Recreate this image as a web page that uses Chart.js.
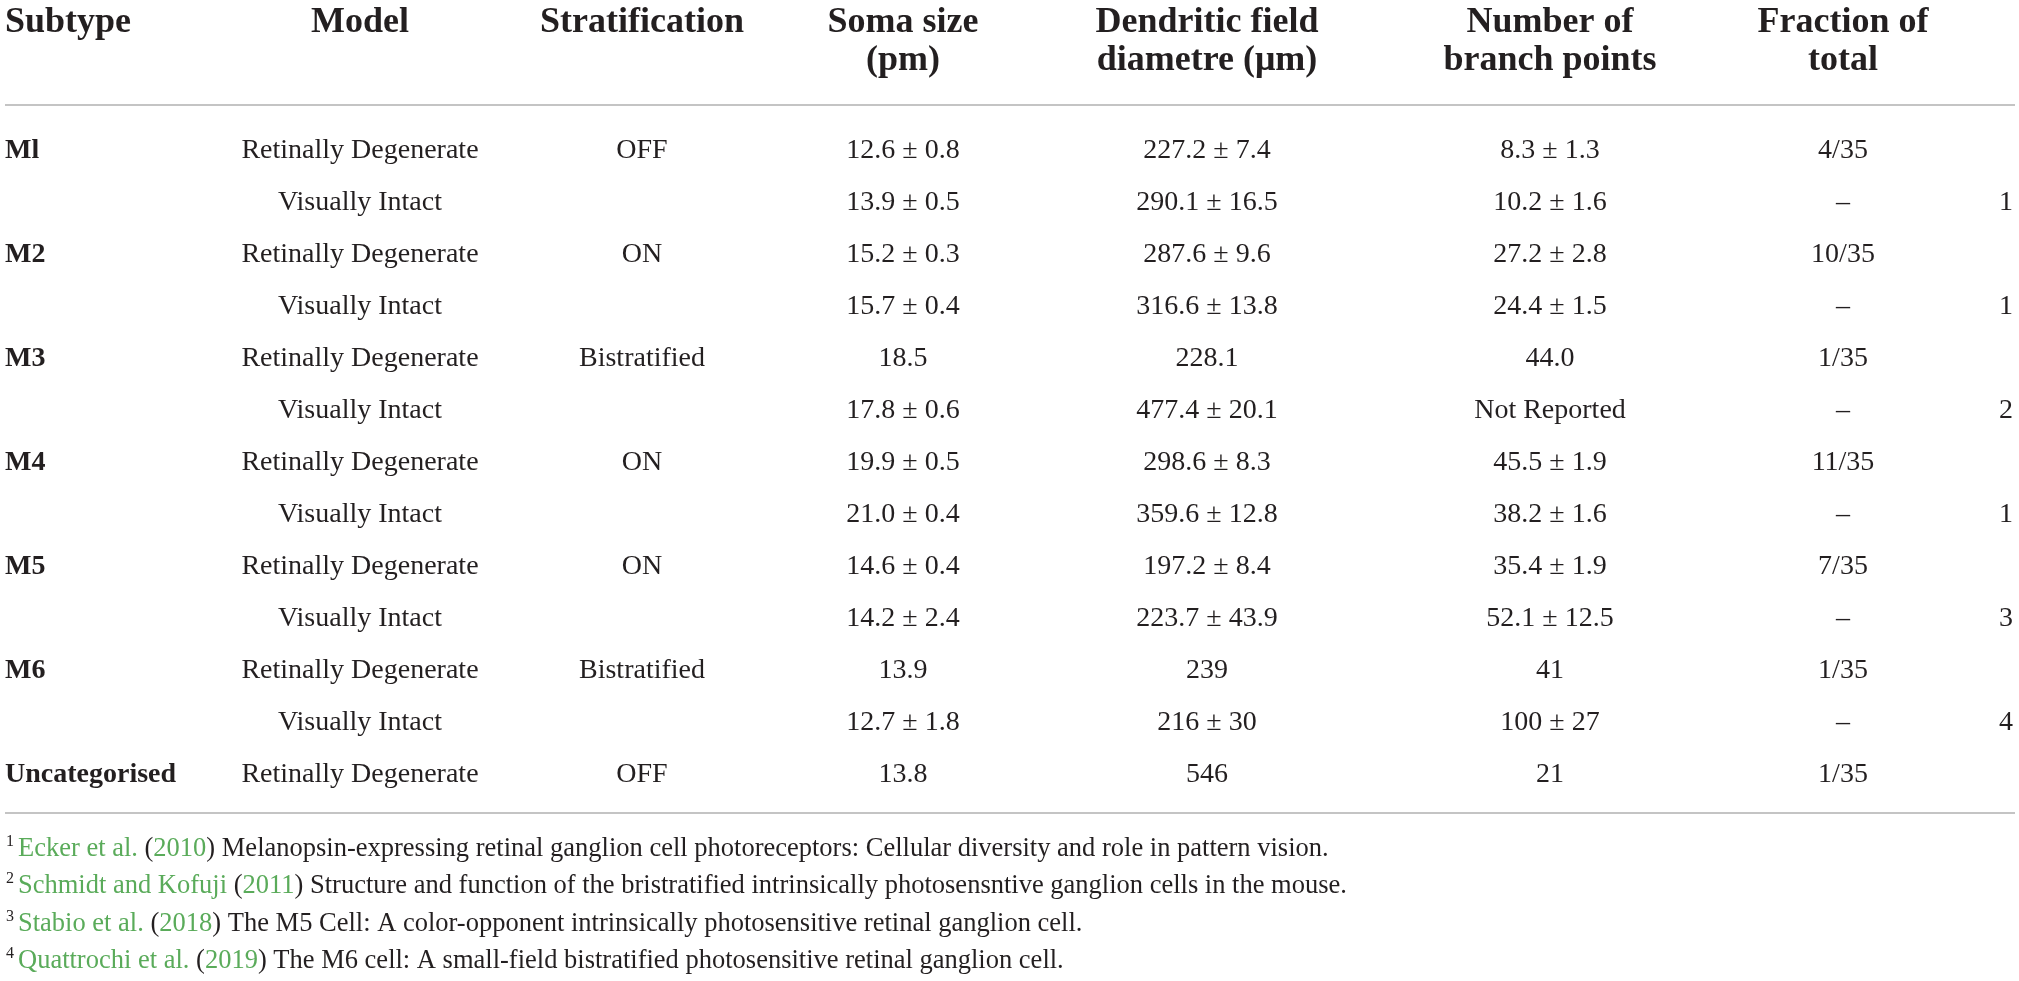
<!DOCTYPE html>
<html>
<head>
<meta charset="utf-8">
<script src="https://cdn.jsdelivr.net/npm/chart.js@4.4.1/dist/chart.umd.min.js"></script>
<style>
  html, body { margin: 0; padding: 0; background: #ffffff; }
  #wrap { width: 2019px; height: 981px; }
</style>
</head>
<body>
<div id="wrap"><canvas id="c" width="2019" height="981"></canvas></div>
<script>
// ---- table content (data) ----
const headers = [
  ['Subtype'],
  ['Model'],
  ['Stratification'],
  ['Soma size', '(pm)'],
  ['Dendritic field', 'diametre (\u03bcm)'],
  ['Number of', 'branch points'],
  ['Fraction of', 'total'],
  []
];
const subtypes = ['Ml', '', 'M2', '', 'M3', '', 'M4', '', 'M5', '', 'M6', '', 'Uncategorised'];
const models = ['Retinally Degenerate', 'Visually Intact', 'Retinally Degenerate', 'Visually Intact',
  'Retinally Degenerate', 'Visually Intact', 'Retinally Degenerate', 'Visually Intact',
  'Retinally Degenerate', 'Visually Intact', 'Retinally Degenerate', 'Visually Intact',
  'Retinally Degenerate'];
const stratification = ['OFF', '', 'ON', '', 'Bistratified', '', 'ON', '', 'ON', '', 'Bistratified', '', 'OFF'];
const somaSize = ['12.6 \u00b1 0.8', '13.9 \u00b1 0.5', '15.2 \u00b1 0.3', '15.7 \u00b1 0.4', '18.5',
  '17.8 \u00b1 0.6', '19.9 \u00b1 0.5', '21.0 \u00b1 0.4', '14.6 \u00b1 0.4', '14.2 \u00b1 2.4',
  '13.9', '12.7 \u00b1 1.8', '13.8'];
const dendriticField = ['227.2 \u00b1 7.4', '290.1 \u00b1 16.5', '287.6 \u00b1 9.6', '316.6 \u00b1 13.8',
  '228.1', '477.4 \u00b1 20.1', '298.6 \u00b1 8.3', '359.6 \u00b1 12.8', '197.2 \u00b1 8.4',
  '223.7 \u00b1 43.9', '239', '216 \u00b1 30', '546'];
const branchPoints = ['8.3 \u00b1 1.3', '10.2 \u00b1 1.6', '27.2 \u00b1 2.8', '24.4 \u00b1 1.5', '44.0',
  'Not Reported', '45.5 \u00b1 1.9', '38.2 \u00b1 1.6', '35.4 \u00b1 1.9', '52.1 \u00b1 12.5',
  '41', '100 \u00b1 27', '21'];
const fractionTotal = ['4/35', '\u2013', '10/35', '\u2013', '1/35', '\u2013', '11/35', '\u2013',
  '7/35', '\u2013', '1/35', '\u2013', '1/35'];
const refMarks = ['', '1', '', '1', '', '2', '', '1', '', '3', '', '4', ''];

const footnoteNums = ['1', '2', '3', '4'];
const footnoteAuthors = ['Ecker et al.', 'Schmidt and Kofuji', 'Stabio et al.', 'Quattrochi et al.'];
const footnoteYears = ['2010', '2011', '2018', '2019'];
const footnoteTitles = [
  'Melanopsin-expressing retinal ganglion cell photoreceptors: Cellular diversity and role in pattern vision.',
  'Structure and function of the bristratified intrinsically photosensntive ganglion cells in the mouse.',
  'The M5 Cell: A color-opponent intrinsically photosensitive retinal ganglion cell.',
  'The M6 cell: A small-field bistratified photosensitive retinal ganglion cell.'
];

// ---- layout / style (not data) ----
const columns = [subtypes, models, stratification, somaSize, dendriticField, branchPoints, fractionTotal, refMarks];
const columnX = [5, 360, 642, 903, 1207, 1550, 1843, 2013];
const columnAlign = ['left', 'center', 'center', 'center', 'center', 'center', 'center', 'right'];
const columnBold = [true, false, false, false, false, false, false, false];
const FONT = '"Liberation Serif", "Times New Roman", serif';
const INK = '#231f20';
const GREEN = '#5aab5a';
const RULE = '#c4c4c4';

const rowCount = subtypes.length;

const tablePlugin = {
  id: 'tablePlugin',
  afterDatasetsDraw(chart) {
    const ctx = chart.ctx;
    const area = chart.chartArea;
    ctx.save();
    // header
    ctx.fillStyle = INK;
    ctx.font = 'bold 36px ' + FONT;
    ctx.textBaseline = 'alphabetic';
    headers.forEach((lines, c) => {
      ctx.textAlign = columnAlign[c];
      lines.forEach((t, k) => {
        ctx.fillText(t, columnX[c], area.top - 90 + k * 38);
      });
    });
    // rules
    ctx.strokeStyle = RULE;
    ctx.lineWidth = 2;
    ctx.beginPath();
    ctx.moveTo(5, area.top - 17); ctx.lineTo(2015, area.top - 17);
    ctx.moveTo(5, area.bottom + 15); ctx.lineTo(2015, area.bottom + 15);
    ctx.stroke();
    // cells from dataset elements
    chart.data.datasets.forEach((ds, c) => {
      const meta = chart.getDatasetMeta(c);
      ctx.font = (ds.bold ? 'bold ' : '') + '28px ' + FONT;
      ctx.textAlign = ds.align;
      ctx.fillStyle = INK;
      meta.data.forEach((el, i) => {
        const t = ds.data[i].text;
        if (t) ctx.fillText(t, el.x, el.y + 10);
      });
    });
    // footnotes
    ctx.textAlign = 'left';
    footnoteNums.forEach((n, i) => {
      const base = area.bottom + 58 + i * 37.3;
      ctx.font = '16px ' + FONT;
      ctx.fillStyle = INK;
      ctx.fillText(n, 6, base - 10);
      let x = 18;
      ctx.font = '26.5px ' + FONT;
      const segs = [
        [footnoteAuthors[i], GREEN], [' (', INK], [footnoteYears[i], GREEN], [') ', INK], [footnoteTitles[i], INK]
      ];
      segs.forEach(([s, col]) => {
        ctx.fillStyle = col;
        ctx.fillText(s, x, base);
        x += ctx.measureText(s).width;
      });
    });
    ctx.restore();
  }
};

const datasets = columns.map((col, c) => ({
  label: headers[c].join(' '),
  data: col.map((t, i) => ({ x: columnX[c], y: i, text: t })),
  align: columnAlign[c],
  bold: columnBold[c],
  pointRadius: 0,
  pointHoverRadius: 0,
  showLine: false
}));

Chart.defaults.font.family = FONT;

new Chart(document.getElementById('c'), {
  type: 'scatter',
  data: { datasets },
  options: {
    responsive: false,
    devicePixelRatio: 1,
    animation: false,
    events: [],
    layout: { padding: { left: 0, right: 0, top: 122, bottom: 183 } },
    plugins: { legend: { display: false }, tooltip: { enabled: false } },
    scales: {
      x: { type: 'linear', min: 0, max: 2019, display: false },
      y: { type: 'linear', min: -0.5, max: rowCount - 0.5, reverse: true, display: false }
    }
  },
  plugins: [tablePlugin]
});
</script>
</body>
</html>
